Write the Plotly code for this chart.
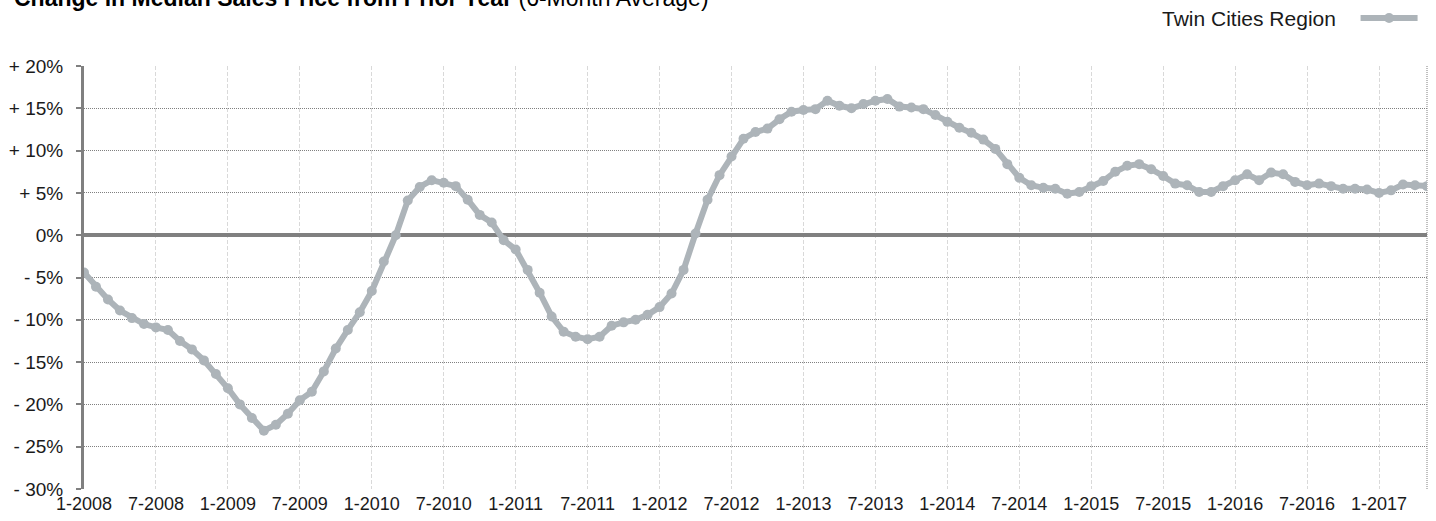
import plotly.graph_objects as go

# ---- data ----
years = list(range(2008, 2018))
months = list(range(1, 13))
categories = [f"{m}-{y}" for y in years for m in months][:113]  # 1-2008 .. 5-2017

twin_cities = [
    -4.4, -6.1, -7.6, -8.9, -9.8, -10.5, -10.9, -11.2, -12.5, -13.5, -14.8, -16.4,
    -18.1, -20.0, -21.6, -23.1, -22.4, -21.1, -19.5, -18.5, -16.1, -13.4, -11.2, -9.1,
    -6.6, -3.1, 0.0, 4.1, 5.7, 6.5, 6.2, 5.8, 4.2, 2.4, 1.5, -0.6,
    -1.7, -4.1, -6.8, -9.6, -11.4, -12.0, -12.3, -12.0, -10.7, -10.3, -10.0, -9.4,
    -8.5, -6.9, -4.1, 0.2, 4.2, 7.1, 9.3, 11.4, 12.2, 12.6, 13.7, 14.6,
    14.8, 14.9, 15.9, 15.3, 15.0, 15.5, 15.9, 16.1, 15.2, 15.1, 14.9, 14.2,
    13.4, 12.7, 12.1, 11.3, 10.2, 8.4, 6.8, 5.9, 5.6, 5.5, 4.9, 5.1,
    5.8, 6.4, 7.5, 8.2, 8.4, 7.8, 7.0, 6.1, 5.9, 5.1, 5.1, 5.8,
    6.5, 7.2, 6.5, 7.4, 7.2, 6.3, 5.9, 6.1, 5.8, 5.5, 5.5, 5.4,
    5.0, 5.3, 6.0, 5.9, 5.8,
]

x_tickvals = [c for c in categories if c.split("-")[0] in ("1", "7")]
y_tickvals = [20, 15, 10, 5, 0, -5, -10, -15, -20, -25, -30]
y_ticktext = ["+ 20%", "+ 15%", "+ 10%", "+ 5%", "0%", "- 5%", "- 10%",
              "- 15%", "- 20%", "- 25%", "- 30%"]

series_name = "Twin Cities Region"
title_bold = "Change in Median Sales Price from Prior Year"
title_rest = "(6-Month Average)"

# ---- figure ----
FONT = "Liberation Sans, Arial, Helvetica, sans-serif"
LINE_COLOR = "#adb4b9"
AXIS_GRAY = "#808080"
DOT_GRAY = "#808080"

fig = go.Figure()
fig.add_trace(go.Scatter(
    x=categories, y=twin_cities, mode="lines+markers", name="\u00a0",
    line=dict(color=LINE_COLOR, width=6),
    marker=dict(color=LINE_COLOR, size=10),
    showlegend=True,
))

W, H = 1436, 521
ML, MR, MT, MB = 84, 9, 66, 32

fig.update_layout(
    width=W, height=H,
    margin=dict(l=ML, r=MR, t=MT, b=MB, pad=0, autoexpand=False),
    paper_bgcolor="white", plot_bgcolor="white",
    font=dict(family=FONT, size=19, color="#1a1a1a"),
    showlegend=True,
    legend=dict(
        title=dict(text=series_name + "\u00a0\u00a0", side="left",
                   font=dict(family=FONT, size=21, color="#1a1a1a")),
        orientation="h",
        xref="container", yref="container",
        x=1 - 2 / W, xanchor="right",
        y=1 - 18 / H, yanchor="middle",
        bgcolor="rgba(0,0,0,0)",
        itemwidth=57,
        font=dict(size=20),
    ),
    xaxis=dict(
        type="category",
        range=[0, 112],
        tickmode="array",
        tickvals=x_tickvals,
        ticktext=x_tickvals,
        showgrid=True, gridcolor="#d9d9d9", griddash="4px,2px", gridwidth=1,
        showline=False, zeroline=False,
        ticks="",
        ticklabelstandoff=2,
        tickfont=dict(size=18),
        tickangle=0,
        automargin=False,
    ),
    yaxis=dict(
        range=[-30, 20],
        tickmode="array",
        tickvals=y_tickvals,
        ticktext=y_ticktext,
        showgrid=True, gridcolor=DOT_GRAY, griddash="1px,1px", gridwidth=1,
        zeroline=True, zerolinecolor=AXIS_GRAY, zerolinewidth=4,
        showline=True, linecolor=AXIS_GRAY, linewidth=3,
        ticks="outside", ticklen=5, tickwidth=2, tickcolor=AXIS_GRAY,
        ticklabelstandoff=9,
        tickfont=dict(size=19),
        automargin=False,
    ),
    shapes=[dict(
        type="line", xref="paper", yref="paper", x0=1, x1=1, y0=0, y1=1,
        line=dict(color=DOT_GRAY, width=1, dash="1px,1px"), layer="below",
    )],
    annotations=[dict(
        text=f"<b>{title_bold}</b> {title_rest}",
        xref="paper", yref="paper", x=0, y=1,
        xanchor="left", yanchor="middle",
        xshift=12 - ML, yshift=MT + 2,
        showarrow=False,
        font=dict(family=FONT, size=23, color="#000000"),
    )],
)

fig.write_html(
    "out.html",
    config={"displayModeBar": False},
    post_script="document.body.style.margin='0';document.body.style.padding='0';"
                "document.documentElement.style.overflow='hidden';",
)
